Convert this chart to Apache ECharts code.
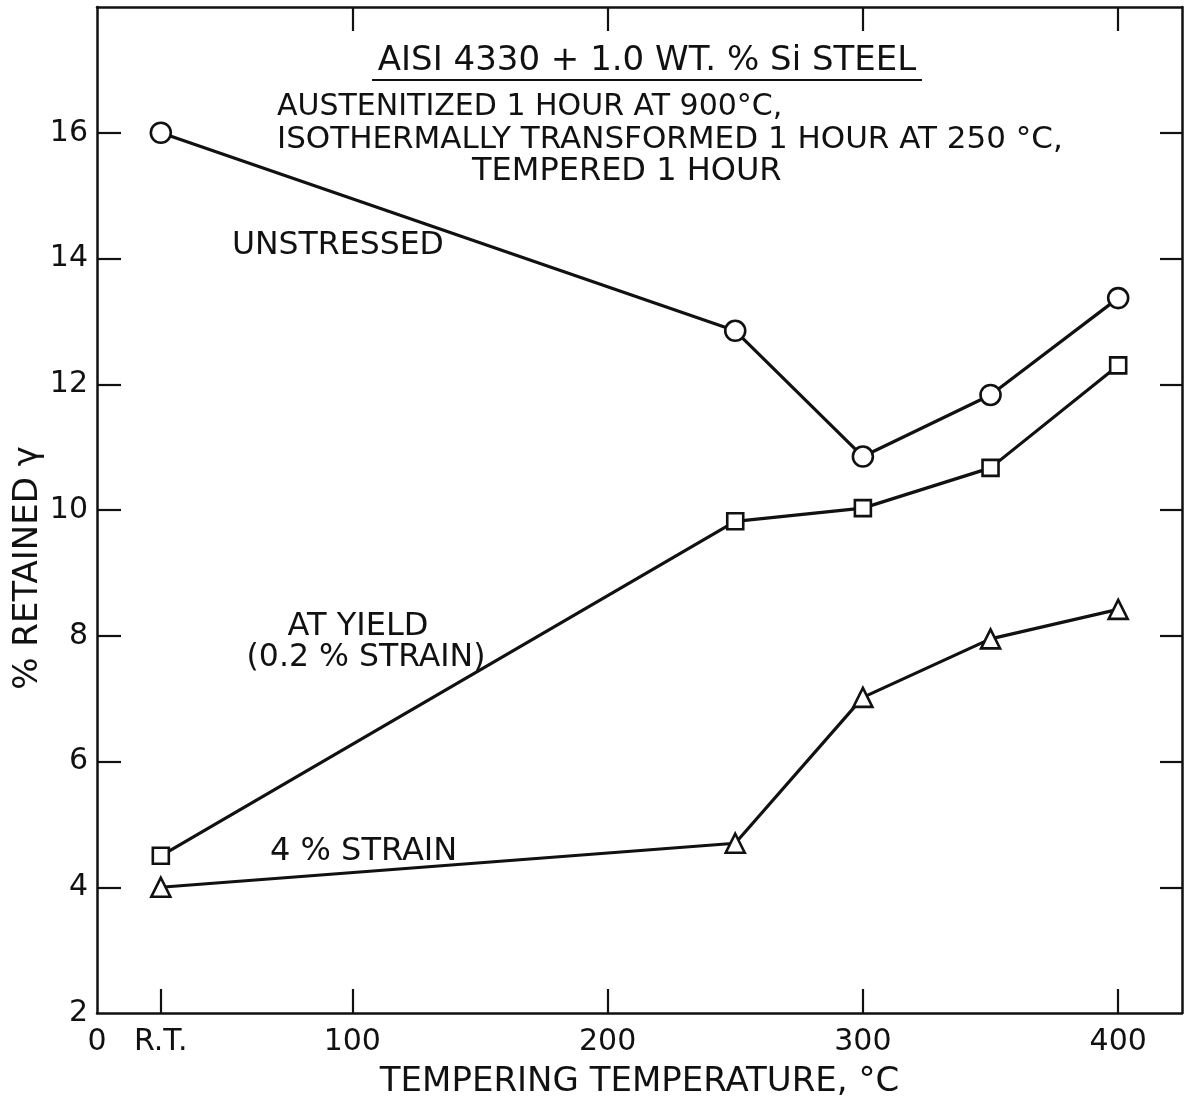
<!DOCTYPE html>
<html>
<head>
<meta charset="utf-8">
<script src="https://cdn.jsdelivr.net/npm/echarts@6/dist/echarts.min.js"></script>
<style>
html,body{margin:0;padding:0;background:#fff;}
#chart{width:1192px;height:1100px;}
</style>
</head>
<body>
<div id="chart"></div>
<script>
// ---- data ----
const temps = [25, 250, 300, 350, 400];
const unstressed = [16.0, 12.85, 10.85, 11.83, 13.37];
const atYield = [4.5, 9.82, 10.03, 10.67, 12.3];
const strain4 = [4.0, 4.7, 7.02, 7.95, 8.42];

const xLabelValues = [0, 25, 100, 200, 300, 400];
const xLabelText = {0: '0', 25: 'R.T.', 100: '100', 200: '200', 300: '300', 400: '400'};
const xTickValues = [25, 100, 200, 300, 400];
const xTopTickValues = [100, 200, 300, 400];
const yLabelValues = [2, 4, 6, 8, 10, 12, 14, 16];
const yTickValues = [4, 6, 8, 10, 12, 14, 16];

const FONT = '"DejaVu Sans", "Liberation Sans", sans-serif';
const INK = '#111';

function pairs(vals) { return temps.map((t, i) => [t, vals[i]]); }

const chart = echarts.init(document.getElementById('chart'), null, {renderer: 'canvas'});

const axisLine = {show: true, onZero: false, lineStyle: {color: INK, width: 2.5}};
const tickStyle = {color: INK, width: 2.2};

const markerStyle = {color: '#fff', borderColor: INK, borderWidth: 2.6};
const lineStyle = {color: INK, width: 3.2};

function lineSeries(name, vals, symbol, size) {
  return {
    name: name, type: 'line', data: pairs(vals),
    symbol: symbol, symbolSize: size, showAllSymbol: true,
    lineStyle: lineStyle, itemStyle: markerStyle, animation: false,
    emphasis: {disabled: true}
  };
}

function txt(x, y, text, size, align) {
  return {
    type: 'text', x: x, y: y, z: 10,
    style: {text: text, font: size + 'px ' + FONT, fill: INK,
            textAlign: align || 'left', textVerticalAlign: 'middle'}
  };
}

const option = {
  backgroundColor: '#fff',
  animation: false,
  grid: {left: 97, top: 7, right: 10, bottom: 87, containLabel: false, outerBoundsMode: 'none'},
  xAxis: [{
    type: 'value', min: 0, max: 425, position: 'bottom',
    axisLine: axisLine,
    axisTick: {show: true, inside: true, length: 24, customValues: xTickValues, lineStyle: tickStyle},
    axisLabel: {show: true, customValues: xLabelValues, margin: 14,
      formatter: v => xLabelText[v] !== undefined ? xLabelText[v] : '',
      fontFamily: FONT, fontSize: 30, color: INK},
    splitLine: {show: false},
    name: 'TEMPERING TEMPERATURE, °C', nameLocation: 'middle', nameGap: 52,
    nameTextStyle: {fontFamily: FONT, fontSize: 34, color: INK}
  }, {
    type: 'value', min: 0, max: 425, position: 'top',
    axisLine: axisLine,
    axisTick: {show: true, inside: true, length: 24, customValues: xTopTickValues, lineStyle: tickStyle},
    axisLabel: {show: false}, splitLine: {show: false}
  }],
  yAxis: [{
    type: 'value', min: 2, max: 18, position: 'left',
    axisLine: axisLine,
    axisTick: {show: true, inside: true, length: 24, customValues: yTickValues, lineStyle: tickStyle},
    axisLabel: {show: true, customValues: yLabelValues, margin: 9,
      fontFamily: FONT, fontSize: 30, color: INK},
    splitLine: {show: false}
  }, {
    type: 'value', min: 2, max: 18, position: 'right',
    axisLine: axisLine,
    axisTick: {show: true, inside: true, length: 22, customValues: yTickValues, lineStyle: tickStyle},
    axisLabel: {show: false}, splitLine: {show: false}
  }],
  series: [
    lineSeries('UNSTRESSED', unstressed, 'circle', 20),
    lineSeries('AT YIELD (0.2 % STRAIN)', atYield, 'rect', 16),
    lineSeries('4 % STRAIN', strain4, 'triangle', 19)
  ],
  graphic: [
    txt(647, 61, 'AISI 4330 + 1.0 WT. % Si STEEL', 34, 'center'),
    {type: 'line', z: 10, shape: {x1: 372, y1: 80, x2: 922, y2: 80}, style: {stroke: INK, lineWidth: 2.2}},
    txt(277, 107, 'AUSTENITIZED 1 HOUR AT 900°C,', 30),
    txt(277, 140, 'ISOTHERMALLY TRANSFORMED 1 HOUR AT 250 °C,', 31),
    txt(472, 172, 'TEMPERED 1 HOUR', 32),
    txt(232, 246, 'UNSTRESSED', 31.5),
    txt(358, 627, 'AT YIELD', 32, 'center'),
    txt(366, 658, '(0.2 % STRAIN)', 31.5, 'center'),
    txt(270, 852, '4 % STRAIN', 32),
    {type: 'text', x: 28, y: 568, rotation: Math.PI / 2, z: 10,
     style: {text: '% RETAINED γ', font: '34px ' + FONT, fill: INK,
             textAlign: 'center', textVerticalAlign: 'middle'}}
  ]
};

chart.setOption(option);
</script>
</body>
</html>
